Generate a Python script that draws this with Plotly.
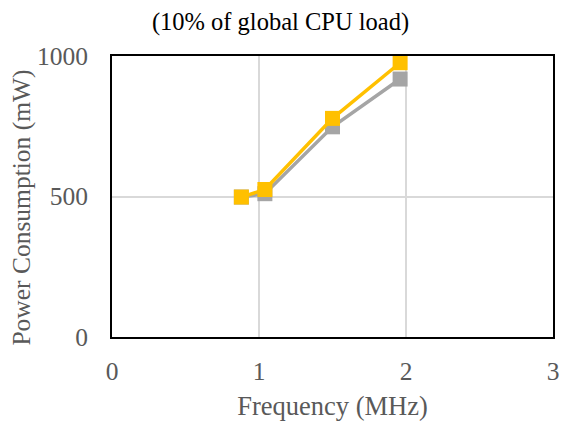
import plotly.graph_objects as go

freq_yellow = [0.88, 1.04, 1.5, 1.96]
power_yellow = [498, 525, 778, 976]
freq_gray = [0.88, 1.04, 1.5, 1.96]
power_gray = [498, 510, 748, 918]

title_text = "(10% of global CPU load)"
x_title = "Frequency (MHz)"
y_title = "Power Consumption (mW)"

fig = go.Figure()
fig.add_trace(go.Scatter(x=freq_gray, y=power_gray, mode="lines+markers",
                         line=dict(color="#A5A5A5", width=3.5),
                         marker=dict(symbol="square", size=15, color="#A5A5A5"),
                         showlegend=False))
fig.add_trace(go.Scatter(x=freq_yellow, y=power_yellow, mode="lines+markers",
                         line=dict(color="#FFC000", width=3.5),
                         marker=dict(symbol="square", size=15, color="#FFC000"),
                         showlegend=False))

font_family = "Liberation Serif"
fig.update_layout(
    width=561, height=425,
    margin=dict(l=112, r=8, t=56, b=88),
    paper_bgcolor="white", plot_bgcolor="white",
    title=dict(text=title_text, x=0.5, xanchor="center", y=0.95, yanchor="middle",
               font=dict(family=font_family, size=24.5, color="black")),
    font=dict(family=font_family),
)
fig.add_annotation(text=y_title, textangle=-90, xref="paper", yref="paper",
                   x=-0.206, y=0.461, xanchor="center", yanchor="middle", showarrow=False,
                   font=dict(family=font_family, size=25.5, color="#595959"))
fig.update_xaxes(range=[0, 3], tickvals=[0, 1, 2, 3], showgrid=True, gridcolor="#D9D9D9",
                 gridwidth=2, zeroline=False, showline=True, linecolor="black", linewidth=2,
                 mirror=True, ticks="", ticklabelstandoff=10, automargin=False,
                 tickfont=dict(family=font_family, size=25.5, color="#595959"),
                 title=dict(text=x_title, font=dict(family=font_family, size=26.5, color="#595959"),
                            standoff=12))
fig.update_yaxes(range=[0, 1000], tickvals=[0, 500, 1000], showgrid=True, gridcolor="#D9D9D9",
                 gridwidth=2, zeroline=False, showline=True, linecolor="black", linewidth=2,
                 mirror=True, ticks="", ticklabelstandoff=17, automargin=False,
                 tickfont=dict(family=font_family, size=25.5, color="#595959"))

fig.write_html("out.html")
